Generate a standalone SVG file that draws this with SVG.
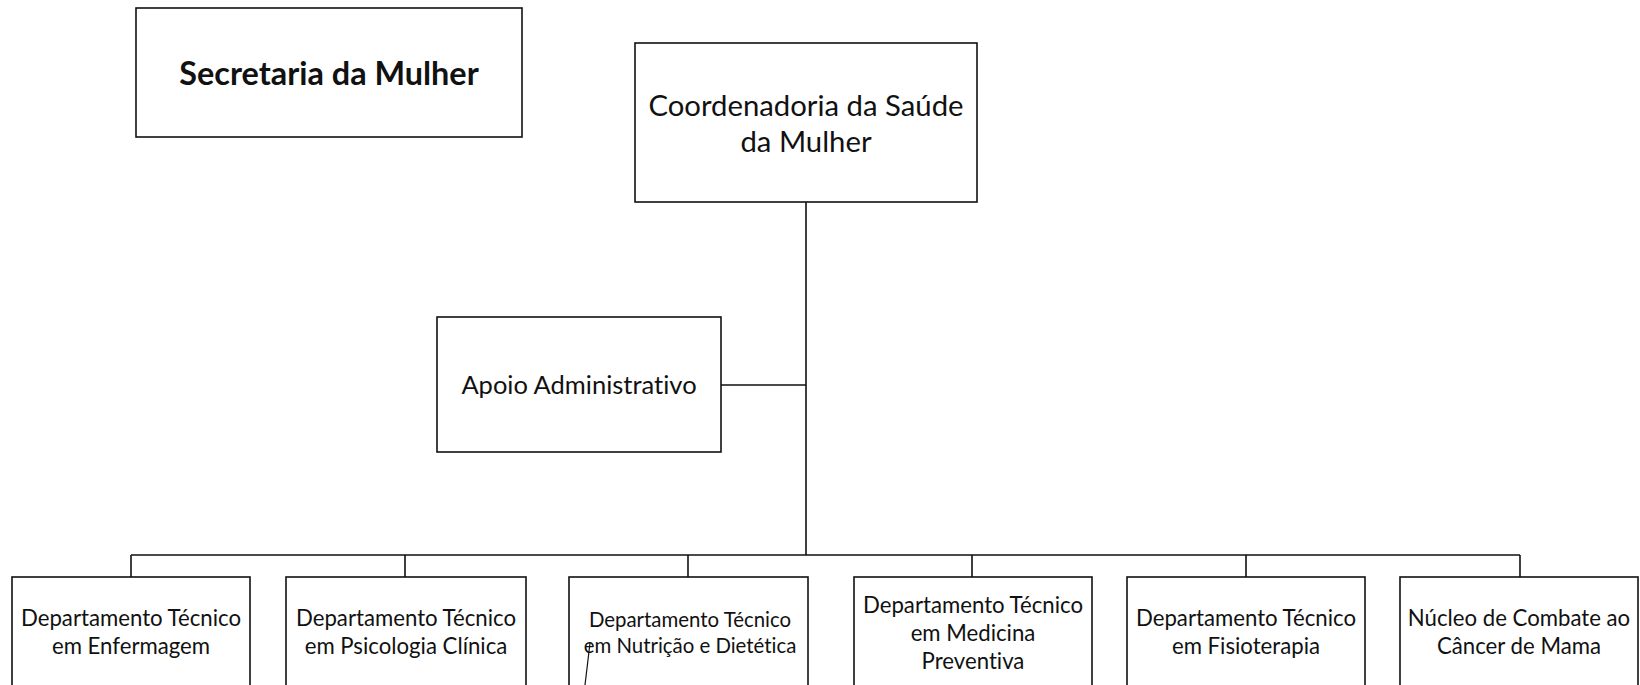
<svg xmlns="http://www.w3.org/2000/svg" width="1640" height="685" viewBox="0 0 1640 685">
<style>
.box{fill:#fff;stroke:#111;stroke-width:1.6}
.ln{fill:none;stroke:#111;stroke-width:1.6}
text{font-family:Lato,"Liberation Sans",sans-serif;fill:#111;text-anchor:middle;font-variant-ligatures:none;font-feature-settings:"liga" 0,"dlig" 0}
.t1{font-size:32.4px;font-weight:700}
.t2{font-size:29.3px}
.t3{font-size:25.5px}
.t4{font-size:22.2px}
.t5{font-size:20.4px}
</style>
<rect width="1640" height="685" fill="#fff"/>
<g id="connectors">
<path class="ln" d="M806,202 V555 M721,385 H806 M131,555 H1520 M131,555 V577 M405,555 V577 M688,555 V577 M972,555 V577 M1246,555 V577 M1520,555 V577"/>
</g>
<g id="secretaria">
<rect class="box" x="136" y="8" width="386" height="129"/>
<text class="t1" x="329" y="85">Secretaria da Mulher</text>
</g>
<g id="coordenadoria">
<rect class="box" x="635" y="43" width="342" height="159"/>
<text class="t2" x="806" y="116">Coordenadoria da Saúde</text>
<text class="t2" x="806" y="152">da Mulher</text>
</g>
<g id="apoio">
<rect class="box" x="437" y="317" width="284" height="135"/>
<text class="t3" x="579" y="394">Apoio Administrativo</text>
</g>
<g id="enfermagem">
<rect class="box" x="12" y="577" width="238" height="130"/>
<text class="t4" x="131" y="626">Departamento Técnico</text>
<text class="t4" x="131" y="654">em Enfermagem</text>
</g>
<g id="psicologia">
<rect class="box" x="286" y="577" width="240" height="130"/>
<text class="t4" x="406" y="626">Departamento Técnico</text>
<text class="t4" x="406" y="654">em Psicologia Clínica</text>
</g>
<g id="nutricao">
<rect class="box" x="569" y="577" width="239" height="130"/>
<text class="t5" x="690" y="627">Departamento Técnico</text>
<text class="t5" x="690" y="653">em Nutrição e Dietética</text>
<path d="M590,643 Q588,660 585,685" fill="none" stroke="#111" stroke-width="1.2"/>
</g>
<g id="medicina">
<rect class="box" x="854" y="577" width="238" height="130"/>
<text class="t4" x="973" y="613">Departamento Técnico</text>
<text class="t4" x="973" y="641">em Medicina</text>
<text class="t4" x="973" y="669">Preventiva</text>
</g>
<g id="fisioterapia">
<rect class="box" x="1127" y="577" width="238" height="130"/>
<text class="t4" x="1246" y="626">Departamento Técnico</text>
<text class="t4" x="1246" y="654">em Fisioterapia</text>
</g>
<g id="nucleo">
<rect class="box" x="1400" y="577" width="238" height="130"/>
<text class="t4" x="1519" y="626">Núcleo de Combate ao</text>
<text class="t4" x="1519" y="654">Câncer de Mama</text>
</g>
</svg>
